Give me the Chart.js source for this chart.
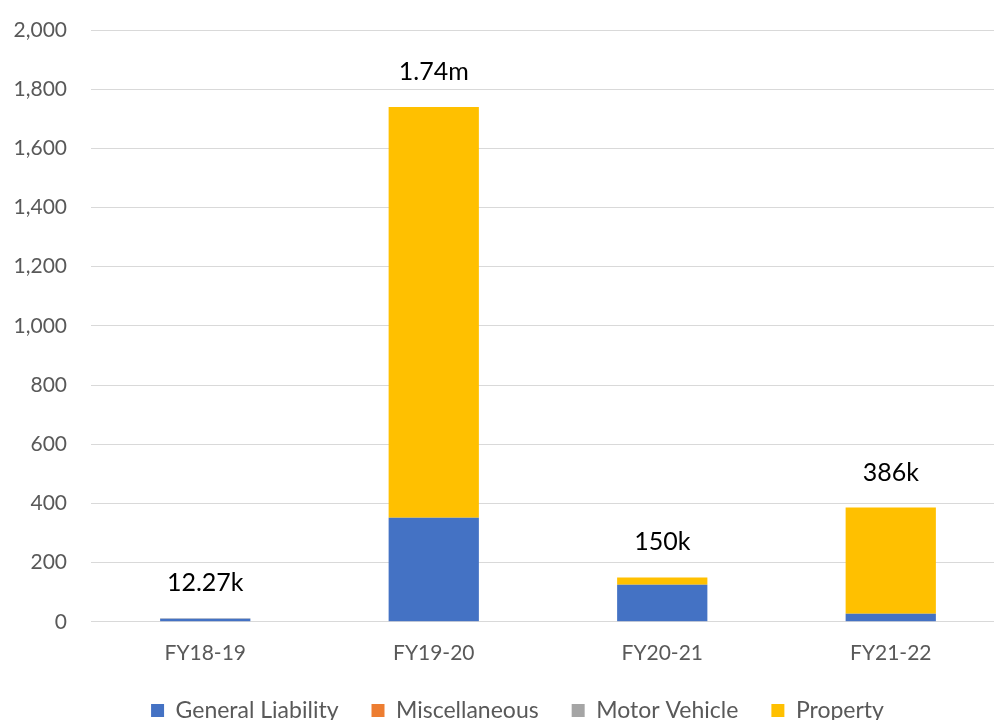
<!DOCTYPE html>
<html>
<head>
<meta charset="utf-8">
<script src="https://cdn.jsdelivr.net/npm/chart.js@4"></script>
<style>
  html, body { margin: 0; padding: 0; background: #fff; overflow: hidden; }
  #wrap { position: absolute; left: 0; top: 0; width: 1034px; height: 732px; }
</style>
</head>
<body>
<div id="wrap"><canvas id="chart"></canvas></div>
<script>
// Data (values in thousands)
const categories = ['FY18-19', 'FY19-20', 'FY20-21', 'FY21-22'];
const generalLiability = [10, 352, 125, 27];
const miscellaneous = [0, 0, 0, 0];
const motorVehicle = [2.27, 0, 0, 0];
const property = [0, 1388, 25, 359];
const totalLabels = ['12.27k', '1.74m', '150k', '386k'];

const GREY = '#595959';
const FONT = 'Lato, "Open Sans", sans-serif';

// Labels above each stack
const totalsPlugin = {
  id: 'totals',
  afterDatasetsDraw(chart) {
    const ctx = chart.ctx;
    const y = chart.scales.y;
    const meta = chart.getDatasetMeta(0);
    ctx.save();
    ctx.fillStyle = '#000';
    ctx.font = '25px ' + FONT;
    ctx.textAlign = 'center';
    ctx.textBaseline = 'middle';
    categories.forEach((c, i) => {
      const total = generalLiability[i] + miscellaneous[i] + motorVehicle[i] + property[i];
      ctx.fillText(totalLabels[i], meta.data[i].x, y.getPixelForValue(total) - 35);
    });
    ctx.restore();
  }
};

// Legend is centred on the whole picture, not on the plot
const legendShift = {
  id: 'legendShift',
  afterLayout(chart) {
    const lg = chart.legend;
    if (lg) { lg.left += 15; lg.right += 15; }
  }
};

new Chart(document.getElementById('chart'), {
  type: 'bar',
  data: {
    labels: categories,
    datasets: [
      { label: 'General Liability', data: generalLiability, backgroundColor: '#4472C4' },
      { label: 'Miscellaneous', data: miscellaneous, backgroundColor: '#ED7D31' },
      { label: 'Motor Vehicle', data: motorVehicle, backgroundColor: '#A5A5A5' },
      { label: 'Property', data: property, backgroundColor: '#FFC000' }
    ]
  },
  options: {
    responsive: true,
    maintainAspectRatio: false,
    animation: false,
    layout: { padding: { top: 30, left: 0, right: 29, bottom: 0 } },
    datasets: { bar: { categoryPercentage: 1, barPercentage: 0.395 } },
    plugins: {
      legend: {
        position: 'bottom',
        labels: {
          boxWidth: 13, boxHeight: 13, padding: 33,
          color: GREY, font: { family: FONT, size: 23 }
        }
      },
      tooltip: { enabled: false }
    },
    scales: {
      x: {
        stacked: true,
        grid: { display: false, tickLength: 19 },
        border: { display: false },
        ticks: { color: GREY, font: { family: FONT, size: 21 }, padding: 0 }
      },
      y: {
        stacked: true,
        min: 0, max: 2000,
        afterFit(scale) { scale.width = 91; },
        grid: { color: '#d9d9d9', tickLength: 18, tickColor: 'rgba(0,0,0,0)' },
        border: { display: false },
        ticks: {
          stepSize: 200, color: GREY, padding: 6,
          font: { family: FONT, size: 21 },
          callback: v => v.toLocaleString('en-US')
        }
      }
    }
  },
  plugins: [totalsPlugin, legendShift]
});
</script>
</body>
</html>
